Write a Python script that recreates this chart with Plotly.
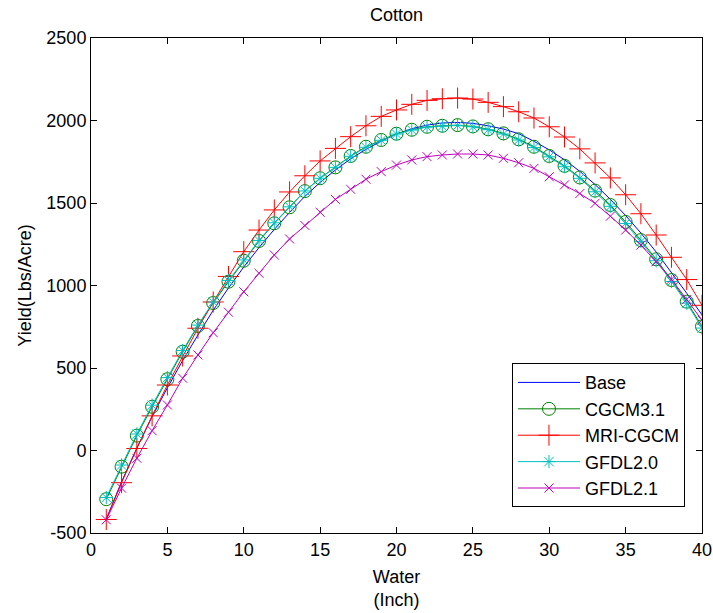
import plotly.graph_objects as go

# Irrigation water applied (inches)
water = list(range(1, 41))

# Cotton yield (Lbs/Acre) under each climate scenario
base = [-415, -190, 15, 205, 380, 545, 700, 850, 985, 1112,
        1230, 1340, 1443, 1540, 1625, 1700, 1768, 1825, 1875, 1918,
        1950, 1972, 1985, 1988, 1983, 1968, 1948, 1920, 1874, 1822,
        1762, 1692, 1612, 1522, 1424, 1318, 1203, 1080, 953, 822]

cgcm31 = [-295, -98, 90, 265, 432, 599, 755, 894, 1023, 1150,
          1270, 1377, 1474, 1572, 1650, 1716, 1785, 1841, 1882, 1920,
          1944, 1962, 1968, 1972, 1964, 1947, 1922, 1886, 1841, 1785,
          1725, 1655, 1575, 1488, 1385, 1275, 1159, 1033, 902, 752]

mri_cgcm = [-418, -195, 12, 210, 397, 573, 741, 900, 1055, 1205,
            1336, 1458, 1567, 1665, 1755, 1831, 1902, 1968, 2025, 2064,
            2098, 2122, 2132, 2136, 2130, 2110, 2084, 2053, 2015, 1962,
            1900, 1828, 1743, 1652, 1550, 1435, 1306, 1171, 1036, 880]

gfdl20 = [-285, -88, 100, 275, 442, 606, 760, 900, 1030, 1155,
          1273, 1380, 1477, 1573, 1650, 1716, 1783, 1838, 1880, 1918,
          1942, 1960, 1966, 1970, 1962, 1944, 1918, 1882, 1836, 1780,
          1720, 1650, 1568, 1480, 1376, 1266, 1150, 1024, 893, 742]

gfdl21 = [-420, -228, -47, 120, 276, 438, 579, 714, 838, 962,
          1074, 1185, 1282, 1364, 1444, 1522, 1583, 1644, 1690, 1730,
          1761, 1781, 1791, 1797, 1797, 1791, 1771, 1744, 1710, 1659,
          1610, 1557, 1498, 1420, 1336, 1245, 1144, 1038, 915, 790]

x_ticks = [0, 5, 10, 15, 20, 25, 30, 35, 40]
y_ticks = [-500, 0, 500, 1000, 1500, 2000, 2500]
y_tick_labels = ["-500", "0", "500", "1000", "1500", "2000", "2500"]

FONT = "Liberation Sans, Arial, Helvetica, sans-serif"

fig = go.Figure()

fig.add_trace(go.Scatter(
    x=water, y=base, name="Base", mode="lines",
    line=dict(color="#0000FF", width=1)))

fig.add_trace(go.Scatter(
    x=water, y=cgcm31, name="CGCM3.1", mode="lines+markers",
    line=dict(color="#008000", width=1),
    marker=dict(symbol="circle-open", size=13, color="#008000",
                line=dict(width=1, color="#008000"))))

fig.add_trace(go.Scatter(
    x=water, y=mri_cgcm, name="MRI-CGCM", mode="lines+markers",
    line=dict(color="#FF0000", width=1),
    marker=dict(symbol="cross-thin-open", size=15, color="#FF0000",
                line=dict(width=1, color="#FF0000"))))

fig.add_trace(go.Scatter(
    x=water, y=gfdl20, name="GFDL2.0", mode="lines+markers",
    line=dict(color="#00BFBF", width=1),
    marker=dict(symbol="asterisk-open", size=11, color="#00BFBF",
                line=dict(width=1, color="#00BFBF"))))

fig.add_trace(go.Scatter(
    x=water, y=gfdl21, name="GFDL2.1", mode="lines+markers",
    line=dict(color="#BF00BF", width=1),
    marker=dict(symbol="x-thin-open", size=9, color="#BF00BF",
                line=dict(width=1, color="#BF00BF"))))

axis_common = dict(
    showline=True, linecolor="black", linewidth=1, mirror="ticks",
    ticks="inside", ticklen=6, tickcolor="black", tickwidth=1,
    showgrid=False, zeroline=False, automargin=False,
    tickfont=dict(family=FONT, size=18, color="black"),
)

fig.update_xaxes(
    range=[0, 40], tickvals=x_ticks,
    title=dict(text="Water<br>(Inch)", font=dict(family=FONT, size=18, color="black"),
               standoff=11),
    **axis_common)

fig.update_yaxes(
    range=[-500, 2500], tickvals=y_ticks, ticktext=y_tick_labels,
    title=dict(text="Yield(Lbs/Acre)", font=dict(family=FONT, size=18, color="black"),
               standoff=10),
    **axis_common)

fig.update_layout(
    width=713, height=613,
    margin=dict(l=91, r=11, t=38, b=80),
    paper_bgcolor="white", plot_bgcolor="white",
    font=dict(family=FONT, size=18, color="black"),
    title=dict(text="Cotton", x=0.556, xanchor="center",
               y=1 - 15 / 613, yanchor="middle", yref="container",
               font=dict(family=FONT, size=18, color="black")),
    legend=dict(x=0.689, y=0.343, xanchor="left", yanchor="top",
                bgcolor="white", bordercolor="black", borderwidth=1,
                font=dict(family=FONT, size=18, color="black"),
                itemwidth=62, tracegroupgap=0, entrywidth=160),
    showlegend=True,
)

fig.write_html("out.html")
